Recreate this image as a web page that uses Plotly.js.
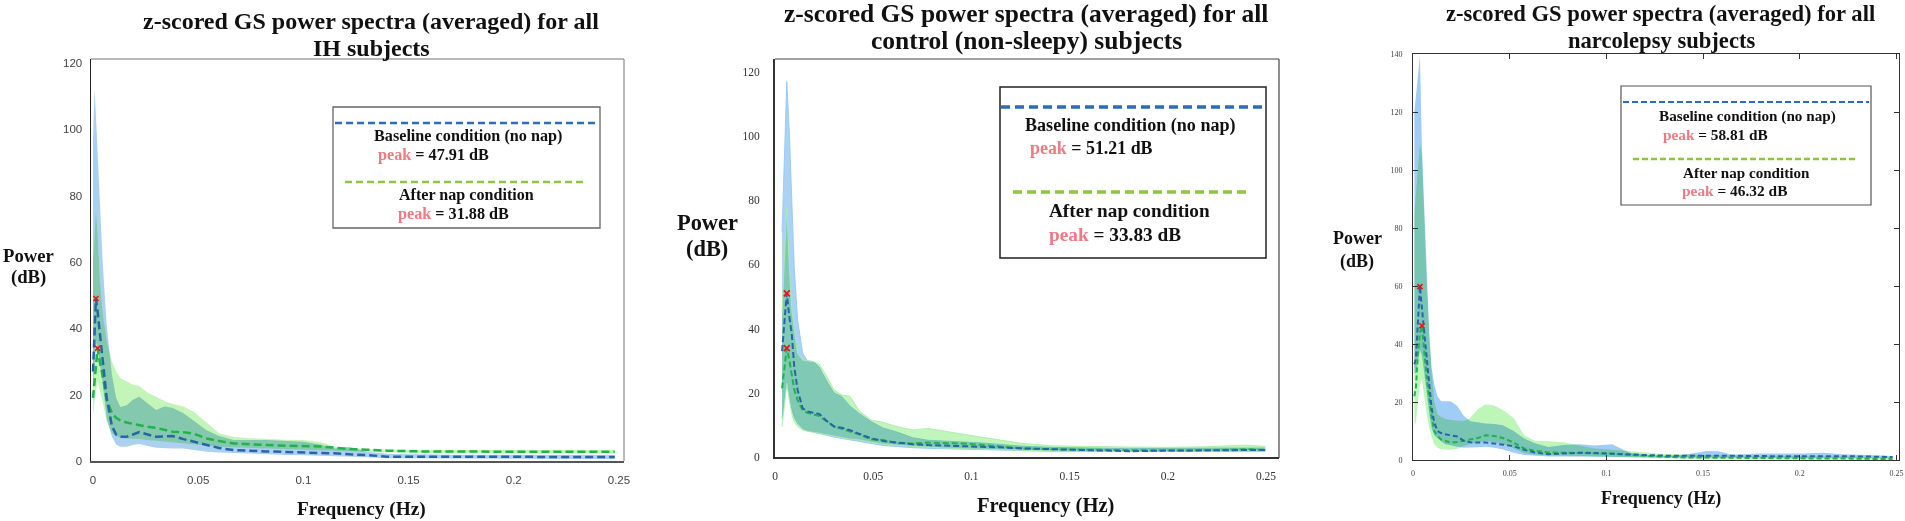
<!DOCTYPE html>
<html>
<head>
<meta charset="utf-8">
<script src="https://cdn.plot.ly/plotly-3.0.1.min.js"></script>
<style>
html,body{margin:0;padding:0;background:#fff;}
#chart{width:1905px;height:521px;}
.js-fill{mix-blend-mode:multiply;}
</style>
</head>
<body>
<div id="chart"></div>
<script>
// ---------------- DATA ----------------
// Panel 1: IH subjects
const ihFreq = [0,0.0007,0.0014,0.0022,0.0032,0.0045,0.0065,0.009,0.011,0.013,0.016,0.019,0.022,0.026,0.030,0.034,0.038,0.043,0.048,0.054,0.060,0.067,0.075,0.083,0.092,0.100,0.108,0.115,0.122,0.130,0.140,0.155,0.170,0.185,0.200,0.215,0.230,0.248];
const ihBaseMean  = [27,40,49,45,38.6,30,19,10.5,8,7.3,7.3,8,8.7,8,7.3,7.4,7.5,6.6,5.8,4.8,3.9,3.3,3.0,2.9,2.7,2.6,2.4,2.3,2.0,1.8,1.3,1.4,1.3,1.3,1.2,1.3,1.2,1.2];
const ihBaseUpper = [97,112,104,92,79,61,41,26,19,16.3,16.8,18.5,19.4,17.5,15.4,16.4,16,14.4,12,9.3,7.5,6.3,6.3,6.3,6,5.8,5,3.8,4.3,2.8,2.2,2.0,1.9,1.9,1.8,1.8,1.8,1.8];
const ihBaseLower = [22,30,36,34,30,24,13,7.3,5,4.3,4.3,4.8,5.1,4.5,4,3.9,3.8,3.8,3.3,2.8,2.6,2.3,2.1,2.0,1.8,1.7,1.6,1.5,1.3,1.1,0.8,0.7,0.7,0.7,0.6,0.6,0.6,0.6];
const ihNapMean   = [19,24,30,34,30,26,18.4,14.4,13,12.2,11.6,11.2,10.8,10.3,10,9.4,8.8,8.7,8.2,6.8,6.0,5.3,5.0,4.8,4.6,4.5,4.4,4.0,3.6,3.4,3.1,2.9,2.8,2.8,2.8,2.8,2.8,2.8];
const ihNapUpper  = [60,70,75,68,55,45,36,30,27,25,24,23,22.6,20.6,19.4,18,17.2,16.4,14.8,11.5,8.4,7.2,6.8,6.6,6.4,6.3,5.7,4.3,4,3.6,3.4,3.3,3.3,3.3,3.3,3.3,3.3,3.3];
const ihNapLower  = [14,17,21,24,22,18,12,8.4,7.5,7,6.8,6.6,6.6,6.3,6,5.8,5.6,5.3,5,4.7,4.3,4,3.8,3.7,3.5,3.4,3.3,3.2,3.0,2.8,2.6,2.4,2.3,2.3,2.3,2.3,2.3,2.3];

// Panel 2: control (non-sleepy) subjects
const ctFreq = [0.0036,0.0048,0.006,0.0073,0.0085,0.0098,0.0115,0.0141,0.0165,0.0195,0.0225,0.026,0.030,0.034,0.038,0.043,0.049,0.055,0.062,0.070,0.078,0.086,0.095,0.105,0.115,0.125,0.140,0.160,0.180,0.200,0.220,0.240,0.2495];
const ctBaseMean  = [33,43,51,43.7,38.6,28.1,20.9,15.2,14.2,13.8,13.4,11.4,9.5,9.1,8.4,7.2,5.8,5.0,4.5,4.0,3.7,3.6,3.4,3.2,3.0,2.7,2.4,2.2,1.8,2.0,2.1,2.2,2.2];
const ctBaseUpper = [70,95,117,101,80,59,42.7,32.3,30,29.7,28,24,20,18.8,16,13.5,11,9.0,7.8,6.0,5.2,5.0,4.8,4.4,3.9,3.4,3.0,2.8,2.6,2.7,2.8,2.9,2.8];
const ctBaseLower = [12,18,23,19,15,12.5,10.5,8.9,8.2,7.8,7.4,6.8,6.2,5.8,5.4,4.8,4.2,3.6,3.2,2.9,2.7,2.6,2.4,2.2,2.1,2.0,1.8,1.7,1.5,1.6,1.7,1.7,1.7];
const ctNapMean   = [21.4,28,33.9,30.2,26,21,17.8,14.5,13.8,13.4,12.8,11.2,9.6,8.8,8.0,7.0,5.5,5.3,4.3,4.2,4.5,4.4,4.2,3.8,3.2,2.7,2.4,2.2,2.0,2.0,2.1,2.4,2.2];
const ctNapUpper  = [45,62,78,59.3,46,40,32.3,30.2,30,29.7,29,25.5,21,19.3,19,14.3,11.5,10.8,9.5,8.4,8.9,8.2,7.2,6.2,5.2,4.3,3.5,3.2,3.1,3.0,3.2,3.7,3.3];
const ctNapLower  = [9.4,16,23,17.8,13.5,11,9.5,8.4,8,7.6,7.4,7,6.5,6,5.6,5.3,4.6,4.0,3.7,3.3,3.0,2.8,2.6,2.3,2.2,2.1,1.9,1.8,1.7,1.7,1.8,1.9,1.9];

// Panel 3: narcolepsy subjects
const naFreq = [0.0007,0.0015,0.0025,0.0036,0.0046,0.0058,0.0070,0.0084,0.0096,0.011,0.0127,0.0145,0.0165,0.0195,0.0229,0.0263,0.0297,0.0335,0.0375,0.042,0.0465,0.052,0.0575,0.063,0.070,0.078,0.086,0.094,0.103,0.112,0.12,0.13,0.14,0.152,0.158,0.165,0.178,0.19,0.202,0.212,0.222,0.235,0.248];
const naBaseMean  = [33,35,47,59.8,52.5,43.3,36.4,26.1,18,12.9,10,9.3,8.9,8.6,8.1,6.6,6.1,6.0,6.0,5.7,5.3,4.8,3.5,2.6,2.0,2.3,2.5,2.4,2.1,1.9,1.7,1.5,1.4,1.5,1.5,1.4,1.3,1.3,1.3,1.4,1.3,1.2,1.0];
const naBaseUpper = [120,125,133,139.5,108,86,63,43.3,32,26,22,20.3,20.3,20.3,18.6,15.2,13.4,12.9,12.6,12.4,12,10,7.4,5.8,4.5,5.2,5.4,5.0,5.4,2.5,1.8,1.5,1.8,3.1,3.0,1.8,2.2,2.2,2.2,2.5,2.0,1.7,1.4];
const naBaseLower = [30,30,34,38,36,30,24,16,11,8.5,7.5,6.5,5.5,5.0,4.6,4.2,4.2,4.4,4.6,4.2,3.6,2.5,1.7,1.4,1.2,1.2,1.2,1.2,1.1,1.0,1.0,0.9,0.9,0.9,0.9,0.9,0.8,0.8,0.8,0.8,0.7,0.7,0.6];
const naNapMean   = [22,25,36,44,46.3,36.4,29,21,15,10,8.3,7.1,6.6,6.0,6.2,6.6,6.9,7.6,8.5,8.3,7.6,6.0,4.0,3.2,2.6,2.5,2.5,2.4,2.2,1.8,1.4,1.1,0.9,0.8,0.8,0.7,0.6,0.6,0.6,0.5,0.5,0.4,0.3];
const naNapUpper  = [85,92,100,109,105,83.6,62,44,30,20.3,15.8,14.8,14.2,13.8,13.5,13.4,14.6,17.5,19.2,18.8,17.2,14.5,8.5,6.6,6.5,6.1,5.0,4.0,3.5,3.0,2.5,2.1,1.9,1.7,1.6,1.5,1.4,1.4,1.4,1.3,1.2,1.1,1.0];
const naNapLower  = [12,13,20,26,28,22,16,11,8,5.4,4.2,3.7,3.5,3.5,3.8,4.8,5.6,6.0,6.5,6.2,5.6,4.0,2.4,1.8,1.5,1.4,1.3,1.2,1.1,0.9,0.7,0.5,0.4,0.3,0.3,0.3,0.2,0.2,0.2,0.2,0.2,0.1,0.1];

// Text
const titles = [
  ["z-scored GS power spectra (averaged) for all", "IH subjects"],
  ["z-scored GS power spectra (averaged) for all", "control (non-sleepy) subjects"],
  ["z-scored GS power spectra (averaged) for all", "narcolepsy subjects"]
];
const basePeaks = ["47.91", "51.21", "58.81"];
const napPeaks  = ["31.88", "33.83", "46.32"];
const xTickVals = [0, 0.05, 0.1, 0.15, 0.2, 0.25];
const xTickText = ["0", "0.05", "0.1", "0.15", "0.2", "0.25"];

// ---------------- LAYOUT HELPERS ----------------
const W = 1905, H = 521;
const px = x => x / W;
const py = y => 1 - y / H;

const BLUE_FILL = 'rgb(172,208,240)';
const GREEN_FILL = 'rgb(195,245,185)';
const BLUE_LINE = '#2864aa';
const GREEN_LINE = '#1fb34a';
const LEG_BLUE = '#2a6ebb';
const LEG_GREEN = '#8cc63e';
const PINK = '#ee7b83';

function band(f, up, lo, color, xa, ya, outline) {
  return {
    x: f.concat(f.slice().reverse()),
    y: up.concat(lo.slice().reverse()),
    xaxis: xa, yaxis: ya, type: 'scatter', mode: 'lines',
    fill: 'toself', fillcolor: color,
    line: outline ? {width: 1, color: outline} : {width: 0},
    hoverinfo: 'skip', showlegend: false
  };
}
function meanLine(f, m, color, width, dash, xa, ya) {
  return {x: f, y: m, xaxis: xa, yaxis: ya, type: 'scatter', mode: 'lines',
    line: {color: color, width: width, dash: dash}, showlegend: false};
}
function peak(f, m, size, xa, ya) {
  let i = m.indexOf(Math.max.apply(null, m));
  return {x: [f[i]], y: [m[i]], xaxis: xa, yaxis: ya, type: 'scatter', mode: 'markers',
    marker: {symbol: 'x-thin', size: size, color: '#e11', line: {width: 1.6, color: '#e11'}}, showlegend: false};
}

const data = [
  band(ihFreq, ihBaseUpper, ihBaseLower, BLUE_FILL, 'x', 'y'),
  band(ihFreq, ihNapUpper, ihNapLower, GREEN_FILL, 'x', 'y'),
  meanLine(ihFreq, ihNapMean, GREEN_LINE, 2.5, '8px,4px', 'x', 'y'),
  meanLine(ihFreq, ihBaseMean, BLUE_LINE, 2.5, '8px,4px', 'x', 'y'),
  peak(ihFreq, ihBaseMean, 5, 'x', 'y'),
  peak(ihFreq, ihNapMean, 5, 'x', 'y'),

  band(ctFreq, ctBaseUpper, ctBaseLower, 'rgb(170,210,245)', 'x2', 'y2', 'rgba(150,200,245,0.9)'),
  band(ctFreq, ctNapUpper, ctNapLower, 'rgb(192,245,188)', 'x2', 'y2', 'rgba(170,238,170,0.9)'),
  meanLine(ctFreq, ctNapMean, GREEN_LINE, 2, '6px,3px', 'x2', 'y2'),
  meanLine(ctFreq, ctBaseMean, BLUE_LINE, 2, '6px,3px', 'x2', 'y2'),
  peak(ctFreq, ctBaseMean, 6, 'x2', 'y2'),
  peak(ctFreq, ctNapMean, 6, 'x2', 'y2'),

  band(naFreq, naBaseUpper, naBaseLower, 'rgb(160,205,245)', 'x3', 'y3'),
  band(naFreq, naNapUpper, naNapLower, 'rgb(190,245,185)', 'x3', 'y3'),
  meanLine(naFreq, naNapMean, GREEN_LINE, 2, '5px,3px', 'x3', 'y3'),
  meanLine(naFreq, naBaseMean, BLUE_LINE, 2, '5px,3px', 'x3', 'y3'),
  peak(naFreq, naBaseMean, 5, 'x3', 'y3'),
  peak(naFreq, naNapMean, 5, 'x3', 'y3')
];

const serif = 'Liberation Serif, Times New Roman, serif';
const sans = 'Liberation Sans, Arial, sans-serif';

function ann(text, x, y, size, xanchor, color) {
  return {text: text, x: px(x), y: py(y), xref: 'paper', yref: 'paper',
    xanchor: xanchor || 'center', yanchor: 'middle', showarrow: false,
    font: {family: serif, size: size, color: color || '#111'}};
}
function peakText(v) {
  return '<b><span style="color:' + PINK + '">peak</span> = ' + v + ' dB</b>';
}

const annotations = [
  // titles
  ann('<b>' + titles[0][0] + '</b>', 371, 21, 24),
  ann('<b>' + titles[0][1] + '</b>', 371, 48, 24),
  ann('<b>' + titles[1][0] + '</b>', 1026, 14, 25.5),
  ann('<b>' + titles[1][1] + '</b>', 1026, 41, 25.5),
  ann('<b>' + titles[2][0] + '</b>', 1660, 13, 22.6),
  ann('<b>' + titles[2][1] + '</b>', 1661, 40, 22.6),
  // y-axis titles
  ann('<b>Power</b>', 28, 255, 18.7), ann('<b>(dB)</b>', 28, 277, 18.7),
  ann('<b>Power</b>', 707, 222, 22.4), ann('<b>(dB)</b>', 707, 248, 22.4),
  ann('<b>Power</b>', 1357, 238, 18), ann('<b>(dB)</b>', 1357, 261, 18),
  // x-axis titles
  ann('<b>Frequency (Hz)</b>', 361, 509, 19.3),
  ann('<b>Frequency (Hz)</b>', 1045, 505, 20.6),
  ann('<b>Frequency (Hz)</b>', 1661, 498, 18),
  // legend texts panel 1
  ann('<b>Baseline condition (no nap)</b>', 372, 136, 16.2, 'left'),
  ann(peakText(basePeaks[0]), 376, 155, 16.2, 'left'),
  ann('<b>After nap condition</b>', 397, 195, 16.1, 'left'),
  ann(peakText(napPeaks[0]), 396, 214, 16.2, 'left'),
  // legend texts panel 2
  ann('<b>Baseline condition (no nap)</b>', 1023, 125, 18.1, 'left'),
  ann(peakText(basePeaks[1]), 1028, 148, 17.9, 'left'),
  ann('<b>After nap condition</b>', 1047, 210, 19.2, 'left'),
  ann(peakText(napPeaks[1]), 1047, 234, 19.3, 'left'),
  // legend texts panel 3
  ann('<b>Baseline condition (no nap)</b>', 1657, 116, 15.2, 'left'),
  ann(peakText(basePeaks[2]), 1661, 134, 15.3, 'left'),
  ann('<b>After nap condition</b>', 1681, 173, 15.1, 'left'),
  ann(peakText(napPeaks[2]), 1680, 191, 15.4, 'left')
];

function pline(x0, y0, x1, y1, color, width, dash) {
  return {type: 'line', xref: 'paper', yref: 'paper', x0: px(x0), y0: py(y0), x1: px(x1), y1: py(y1),
    line: {color: color, width: width, dash: dash || 'solid'}};
}
function prect(x0, y0, x1, y1, color, width) {
  return {type: 'rect', xref: 'paper', yref: 'paper', x0: px(x0), y0: py(y0), x1: px(x1), y1: py(y1),
    line: {color: color, width: width}, fillcolor: 'white'};
}

const shapes = [
  // panel 1 frame top/right
  pline(91, 59, 624, 59, '#777', 1), pline(624, 59, 624, 461, '#777', 1),
  // panel 2 frame top/right
  pline(775, 59, 1279, 59, '#444', 1), pline(1279, 59, 1279, 458, '#444', 1.2),
  // legend panel 1
  prect(333, 107, 600, 228, '#666', 1.3),
  pline(335, 123, 599, 123, LEG_BLUE, 2.5, '7px,4px'),
  pline(345, 182, 585, 182, LEG_GREEN, 2.5, '7px,4px'),
  // legend panel 2
  prect(1000, 87, 1266, 258, '#222', 1.5),
  pline(1001, 107, 1264, 107, LEG_BLUE, 3.5, '9px,5px'),
  pline(1013, 192, 1251, 192, LEG_GREEN, 3.5, '9px,5px'),
  // legend panel 3
  prect(1621, 86, 1871, 205, '#555', 1.2),
  pline(1623, 102, 1869, 102, LEG_BLUE, 2, '6px,3px'),
  pline(1633, 159, 1857, 159, LEG_GREEN, 2.5, '6px,3px')
];

const layout = {
  width: W, height: H,
  margin: {l: 0, r: 0, t: 0, b: 0},
  paper_bgcolor: '#fff', plot_bgcolor: '#fff',
  showlegend: false,
  // Panel 1
  xaxis: {domain: [px(91), px(624)], range: [-0.00095, 0.2524], tickvals: xTickVals, ticktext: xTickText,
    showgrid: false, zeroline: false, showline: true, linecolor: '#555', linewidth: 1.5,
    ticks: 'outside', ticklen: 8, tickcolor: 'rgba(0,0,0,0)', ticklabeloverflow: 'allow',
    tickfont: {family: sans, size: 11.5, color: '#444'}, anchor: 'y'},
  yaxis: {domain: [py(461), py(59)], range: [0, 121.2], dtick: 20, tick0: 0,
    showgrid: false, zeroline: false, showline: true, linecolor: '#222', linewidth: 1.5,
    ticks: 'outside', ticklen: 5, tickcolor: 'rgba(0,0,0,0)',
    tickfont: {family: sans, size: 11.5, color: '#444'}, anchor: 'x'},
  // Panel 2
  xaxis2: {domain: [px(775), px(1279)], range: [0, 0.2566], tickvals: xTickVals, ticktext: xTickText,
    showgrid: false, zeroline: false, showline: true, linecolor: '#333', linewidth: 2,
    ticks: 'outside', ticklen: 7, tickcolor: 'rgba(0,0,0,0)', ticklabeloverflow: 'allow',
    tickfont: {family: serif, size: 11.5, color: '#333'}, anchor: 'y2'},
  yaxis2: {domain: [py(457), py(59)], range: [0, 124], dtick: 20, tick0: 0,
    showgrid: false, zeroline: false, showline: true, linecolor: '#333', linewidth: 2,
    ticks: 'outside', ticklen: 11, tickcolor: 'rgba(0,0,0,0)',
    tickfont: {family: serif, size: 11.5, color: '#333'}, anchor: 'x2'},
  // Panel 3
  xaxis3: {domain: [px(1413), px(1899)], range: [0, 0.2513], tickvals: xTickVals, ticktext: xTickText,
    showgrid: false, zeroline: false, showline: true, linecolor: '#333', linewidth: 1, mirror: 'ticks',
    ticks: 'inside', ticklen: 5, tickcolor: '#333', ticklabelstandoff: 5, ticklabeloverflow: 'allow',
    tickfont: {family: serif, size: 8, color: '#444'}, anchor: 'y3'},
  yaxis3: {domain: [py(460), py(54)], range: [0, 140], dtick: 20, tick0: 0,
    showgrid: false, zeroline: false, showline: true, linecolor: '#333', linewidth: 1, mirror: 'ticks',
    ticks: 'inside', ticklen: 5, tickcolor: '#333', ticklabelstandoff: 8,
    tickfont: {family: serif, size: 8, color: '#444'}, anchor: 'x3'},
  annotations: annotations,
  shapes: shapes
};

Plotly.newPlot('chart', data, layout, {staticPlot: true, displayModeBar: false});
</script>
</body>
</html>
